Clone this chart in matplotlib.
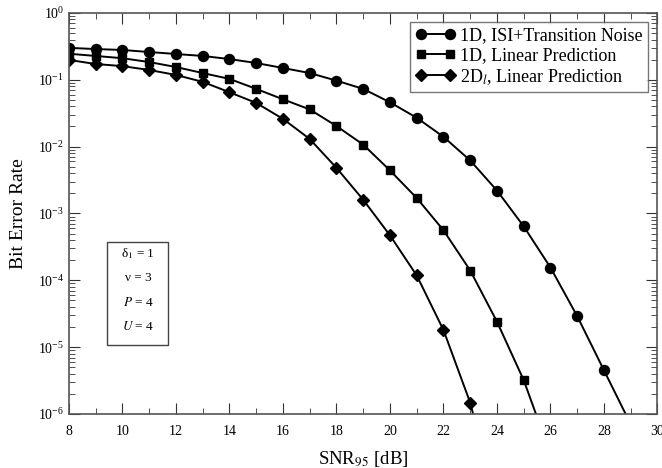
import numpy as np
import matplotlib
matplotlib.use("Agg")
import matplotlib.pyplot as plt
from matplotlib.patches import Rectangle
from matplotlib.ticker import LogLocator, MultipleLocator, NullFormatter

plt.rcParams['font.family'] = ['Liberation Serif', 'DejaVu Serif']
plt.rcParams['mathtext.fontset'] = 'stix'

# data (last point of each curve lies below the axis)
snr_isi = [8, 9, 10, 11, 12, 13, 14, 15, 16, 17, 18, 19, 20, 21, 22, 23, 24, 25, 26, 27, 28, 29]
ber_isi = [0.30, 0.288, 0.279, 0.26, 0.243, 0.227, 0.204, 0.178, 0.15, 0.126, 0.097, 0.073,
           0.046, 0.027, 0.014, 6.2e-3, 2.2e-3, 6.4e-4, 1.55e-4, 2.9e-5, 4.5e-6, 7e-7]
snr_lp = [8, 9, 10, 11, 12, 13, 14, 15, 16, 17, 18, 19, 20, 21, 22, 23, 24, 25, 26]
ber_lp = [0.245, 0.227, 0.21, 0.184, 0.155, 0.126, 0.103, 0.073, 0.051, 0.036, 0.0203,
          0.0107, 4.4e-3, 1.7e-3, 5.6e-4, 1.4e-4, 2.4e-5, 3.2e-6, 2.5e-7]
snr_2d = [8, 9, 10, 11, 12, 13, 14, 15, 16, 17, 18, 19, 20, 21, 22, 23, 24]
ber_2d = [0.198, 0.172, 0.16, 0.14, 0.118, 0.093, 0.065, 0.045, 0.026, 0.013, 4.8e-3,
          1.6e-3, 4.7e-4, 1.18e-4, 1.8e-5, 1.47e-6, 4e-8]

labels = ['1D, ISI+Transition Noise', '1D, Linear Prediction', r'2D$_{l}$, Linear Prediction']
params = ['δ$_1$ = 1', 'ν = 3', '$P$ = 4', '$U$ = 4']

fig = plt.figure(figsize=(6.62, 4.68), dpi=100)
ax = fig.add_axes([0.1042, 0.1154, 0.889, 0.857])

ax.semilogy(snr_isi, ber_isi, '-o', color='black', lw=1.4, ms=7.2, label=labels[0])
ax.semilogy(snr_lp, ber_lp, '-s', color='black', lw=1.4, ms=6.0, label=labels[1])
ax.semilogy(snr_2d, ber_2d, '-D', color='black', lw=1.4, ms=6.2, label=labels[2])

ax.set_xlim(8, 30)
ax.set_ylim(1e-6, 1)
ax.xaxis.set_major_locator(MultipleLocator(2))
ax.xaxis.set_minor_locator(MultipleLocator(1))
ax.yaxis.set_major_locator(LogLocator(base=10, numticks=10))
ax.yaxis.set_minor_locator(LogLocator(base=10, subs=np.arange(2, 10), numticks=10))
ax.yaxis.set_minor_formatter(NullFormatter())
ax.tick_params(which='both', direction='in', top=True, right=True, labelsize=10,
               color='#333333')
ax.tick_params(which='major', length=8)
ax.tick_params(which='minor', length=4)
ax.tick_params(axis='x', pad=8)
for s in ax.spines.values():
    s.set_color('#555555')
    s.set_linewidth(1.2)

ax.set_xlabel(r'SNR$_{95}$ [dB]', fontsize=13.5, labelpad=8)
ax.set_ylabel('Bit Error Rate', fontsize=14, labelpad=8)

leg = ax.legend(loc='upper right', numpoints=2, fontsize=13, frameon=True, fancybox=False,
                edgecolor='#555555', borderpad=0.3, labelspacing=0.15, handlelength=2.2,
                handletextpad=0.3, borderaxespad=0.5)
leg.get_frame().set_linewidth(1.0)

# parameter box
ax.add_patch(Rectangle((0.0646, 0.172), 0.1035, 0.257, transform=ax.transAxes,
                       fc='white', ec='#444444', lw=1.0, zorder=5))
for txt, yy in zip(params, [0.401, 0.340, 0.279, 0.217]):
    ax.text(0.117, yy, txt, transform=ax.transAxes, ha='center', va='center',
            fontsize=9.5, zorder=6)

fig.savefig('out.png', dpi=100)
